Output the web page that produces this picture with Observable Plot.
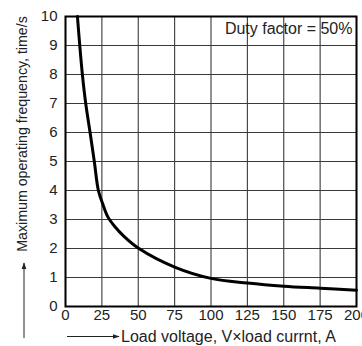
<!DOCTYPE html>
<html><head><meta charset="utf-8">
<script src="https://cdn.jsdelivr.net/npm/d3@7"></script>
<script src="https://cdn.jsdelivr.net/npm/@observablehq/plot@0.6"></script>
<style>
html,body{margin:0;padding:0;background:#fff;}
svg{font-family:"Liberation Sans",Arial,sans-serif;}
</style></head>
<body><div id="chart"></div>
<script>
const loadVA = [8.2, 9.8, 11.6, 13.9, 16.9, 19.8, 22.6, 25.5, 29, 34, 40, 50.5, 75, 100, 125, 150, 175, 200];
const maxFreq = [10, 9, 8, 7, 6, 5, 4, 3.55, 3.1, 2.75, 2.43, 2.0, 1.36, 0.97, 0.81, 0.7, 0.63, 0.56];
const xTicks = [0, 25, 50, 75, 100, 125, 150, 175, 200];
const yTicks = [0, 1, 2, 3, 4, 5, 6, 7, 8, 9, 10];
const xLabel = "Load voltage, V×load currnt, A";
const yLabel = "Maximum operating frequency, time/s";
const note = "Duty factor = 50%";

const data = loadVA.map((x, i) => ({x, y: maxFreq[i]}));

const chart = Plot.plot({
  width: 362, height: 346,
  marginLeft: 65, marginRight: 6, marginTop: 16, marginBottom: 40,
  style: {fontFamily: '"Liberation Sans", Arial, sans-serif', fontSize: "15px", color: "#222", background: "#fff", overflow: "visible"},
  x: {domain: [0, 200], ticks: xTicks},
  y: {domain: [0, 10], ticks: yTicks},
  marks: [
    Plot.gridX(xTicks, {stroke: "#3a3a3a", strokeOpacity: 1, strokeWidth: 1.1}),
    Plot.gridY(yTicks, {stroke: "#3a3a3a", strokeOpacity: 1, strokeWidth: 1.1}),
    Plot.line(data, {x: "x", y: "y", stroke: "#000", strokeWidth: 3, curve: "catmull-rom"}),
    Plot.frame({stroke: "#000", strokeWidth: 2}),
    Plot.axisX(xTicks, {tickSize: 0, tickPadding: 3, label: null, fontSize: 15, fill: "#222"}),
    Plot.axisY(yTicks, {tickSize: 0, tickPadding: 8, label: null, fontSize: 15, fill: "#222"}),
    Plot.text([note], {frameAnchor: "top-right", dx: -4, dy: 6, fontSize: 16, fill: "#222", className: "note"})
  ]
});
document.getElementById("chart").appendChild(chart);

const svg = d3.select(chart);
// note background box
const noteText = svg.select(".note text");
if (!noteText.empty()) {
  const bb = noteText.node().getBBox();
  svg.select(".note").insert("rect", "text")
    .attr("x", bb.x - 1).attr("y", bb.y + 1)
    .attr("width", bb.width + 2).attr("height", bb.height - 1)
    .attr("fill", "#fff").attr("stroke", "#c8c8c8").attr("stroke-width", 0.8);
}

const defs = svg.append("defs");
defs.append("marker").attr("id", "ah").attr("viewBox", "0 0 10 10")
  .attr("refX", 9).attr("refY", 5).attr("markerWidth", 7).attr("markerHeight", 7)
  .attr("markerUnits", "userSpaceOnUse")
  .attr("orient", "auto")
  .append("path").attr("d", "M0,1.5 L10,5 L0,8.5 Z").attr("fill", "#222");

// x axis label with arrow
svg.append("line").attr("x1", 67).attr("y1", 336.5).attr("x2", 119).attr("y2", 336.5)
  .attr("stroke", "#222").attr("stroke-width", 1).attr("marker-end", "url(#ah)");
svg.append("text").attr("x", 121).attr("y", 341.5).attr("text-anchor", "start")
  .attr("font-size", 16).attr("fill", "#222").text(xLabel);

// y axis label with arrow
svg.append("line").attr("x1", 24).attr("y1", 338).attr("x2", 24).attr("y2", 263)
  .attr("stroke", "#222").attr("stroke-width", 1).attr("marker-end", "url(#ah)");
svg.append("text").attr("transform", "translate(27,134) rotate(-90)")
  .attr("text-anchor", "middle")
  .attr("font-size", 14.2).attr("fill", "#222").text(yLabel);
</script>
</body></html>
